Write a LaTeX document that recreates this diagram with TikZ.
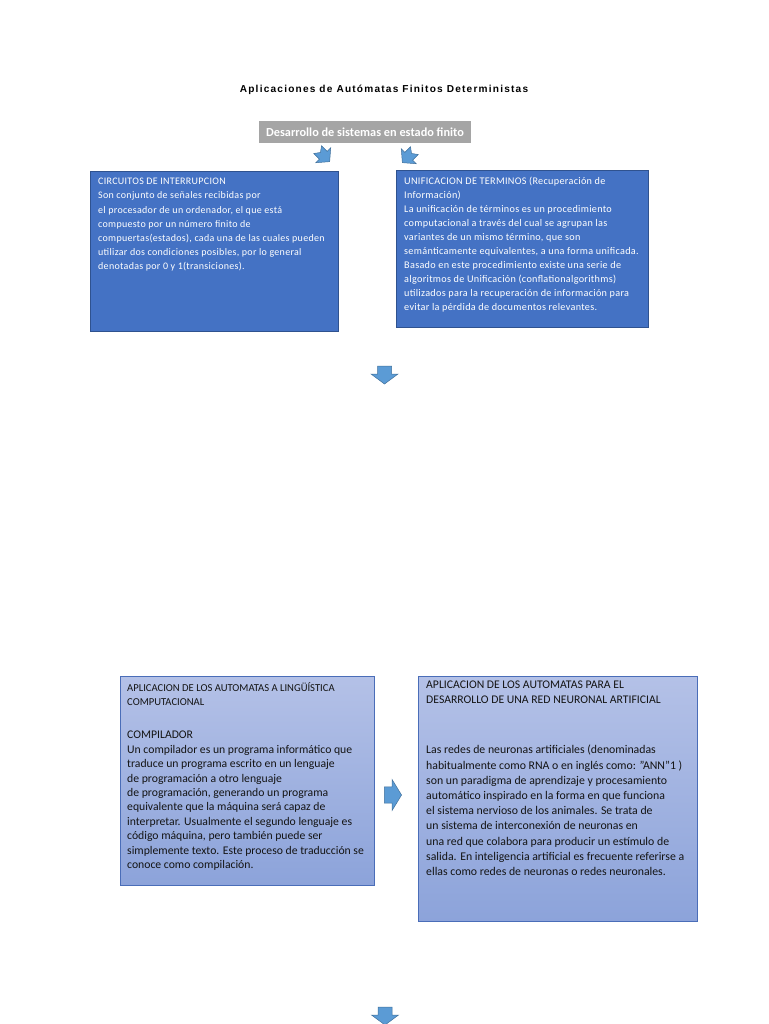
\documentclass[tikz,border=0pt]{standalone}
\usepackage{fontspec}
\setmainfont{Carlito}
\newfontfamily\titlefont[LetterSpace=12]{Liberation Sans}
\newfontfamily\spacedfont[LetterSpace=3]{Carlito}
\definecolor{boxblue}{HTML}{4472C4}
\definecolor{boxedge}{HTML}{2F528F}
\definecolor{arrowblue}{HTML}{5B9BD5}
\definecolor{arrowedge}{HTML}{41719C}
\definecolor{greybox}{HTML}{A5A5A5}
\definecolor{lighttop}{HTML}{B4C1E7}
\definecolor{lightbot}{HTML}{8CA3DA}
\definecolor{lightedge}{HTML}{4A6DB8}
\definecolor{ink}{HTML}{141414}
\tikzset{
  arrowstyle/.style={fill=arrowblue, draw=arrowedge, line width=0.5pt, line join=miter},
  darkbox/.style={draw=boxedge, fill=boxblue, line width=0.6pt, inner sep=0pt},
  lightbox/.style={draw=lightedge, top color=lighttop, bottom color=lightbot, line width=0.6pt, inner sep=0pt},
  whitetext/.style={text=white, align=left, inner sep=0pt, anchor=north west},
  inktext/.style={text=ink, align=left, inner sep=0pt, anchor=north west},
  downarrow/.pic={\path[arrowstyle] (-7,-9) -- (7,-9) -- (7,-1) -- (13.5,-1) -- (0,9) -- (-13.5,-1) -- (-7,-1) -- cycle;},
  notcharrow/.pic={\path[arrowstyle] (-5.5,-9) -- (0,-5) -- (5.5,-9) -- (5.5,-1) -- (10.5,-1) -- (0,8) -- (-10.5,-1) -- (-5.5,-1) -- cycle;}
}
\begin{document}
\begin{tikzpicture}[x=1pt,y=-1pt]
\useasboundingbox[fill=white] (0,0) rectangle (768,1024);

% title
\node[inner sep=0pt, font=\titlefont\bfseries\fontsize{10.1}{12}\selectfont] (title) at (384,90) {Aplicaciones de Autómatas Finitos Deterministas};

% grey header box
\node[fill=greybox, minimum width=212pt, minimum height=22pt, inner sep=0pt, text=white, font=\bfseries\fontsize{12.3}{14}\selectfont] (head) at (365,132) {Desarrollo de sistemas en estado finito};

% tilted arrows
\pic[rotate=45] at (324,156) {notcharrow};
\pic[rotate=-45] at (408,157) {notcharrow};

% top left box
\node[darkbox, minimum width=248pt, minimum height=160pt, anchor=north west] (tl) at (90,171) {};
\node[whitetext, font=\spacedfont\fontsize{10}{14.2}\selectfont] (tltext) at (98,178) {CIRCUITOS DE INTERRUPCION\\
Son conjunto de señales recibidas por\\
el procesador de un ordenador, el que está\\
compuesto por un número finito de\\
compuertas(estados), cada una de las cuales pueden\\
utilizar dos condiciones posibles, por lo general\\
denotadas por 0 y 1(transiciones).};

% top right box
\node[darkbox, minimum width=252pt, minimum height=157pt, anchor=north west] (tr) at (396,170) {};
\node[whitetext, font=\spacedfont\fontsize{10.2}{14}\selectfont] (trtext) at (404,177) {UNIFICACION DE TERMINOS (Recuperación de\\
Información)\\
La unificación de términos es un procedimiento\\
computacional a través del cual se agrupan las\\
variantes de un mismo término, que son\\
semánticamente equivalentes, a una forma unificada.\\
Basado en este procedimiento existe una serie de\\
algoritmos de Unificación (conflationalgorithms)\\
utilizados para la recuperación de información para\\
evitar la pérdida de documentos relevantes.};

% middle down arrow
\pic at (384.5,375) {downarrow};

% bottom left box
\node[lightbox, minimum width=254pt, minimum height=209pt, anchor=north west] (bl) at (120,676) {};
\node[inktext, font=\fontsize{10.6}{14.3}\selectfont] (blhead) at (127,682) {APLICACION DE LOS AUTOMATAS A LINGÜÍSTICA\\
COMPUTACIONAL};
\node[inktext, font=\fontsize{11.7}{14.4}\selectfont] (bltext) at (127,731) {COMPILADOR\\
Un compilador es un programa informático que\\
traduce un programa escrito en un lenguaje\\
de programación a otro lenguaje\\
de programación, generando un programa\\
equivalente que la máquina será capaz de\\
interpretar. Usualmente el segundo lenguaje es\\
código máquina, pero también puede ser\\
simplemente texto. Este proceso de traducción se\\
conoce como compilación.};

% right arrow
\pic[rotate=90, xscale=1.15, yscale=0.95] at (393,795) {downarrow};

% bottom right box
\node[lightbox, minimum width=279pt, minimum height=245pt, anchor=north west] (br) at (418,676) {};
\node[inktext, font=\fontsize{11.7}{15}\selectfont] (brhead) at (426,681) {APLICACION DE LOS AUTOMATAS PARA EL\\
DESARROLLO DE UNA RED NEURONAL ARTIFICIAL};
\node[inktext, font=\fontsize{11.8}{15.2}\selectfont] (brtext) at (426,745) {Las redes de neuronas artificiales (denominadas\\
habitualmente como RNA o en inglés como: "ANN"1 )\\
son un paradigma de aprendizaje y procesamiento\\
automático inspirado en la forma en que funciona\\
el sistema nervioso de los animales. Se trata de\\
un sistema de interconexión de neuronas en\\
una red que colabora para producir un estímulo de\\
salida. En inteligencia artificial es frecuente referirse a\\
ellas como redes de neuronas o redes neuronales.};

% bottom down arrow
\pic at (385,1016) {downarrow};
\end{tikzpicture}
\end{document}
